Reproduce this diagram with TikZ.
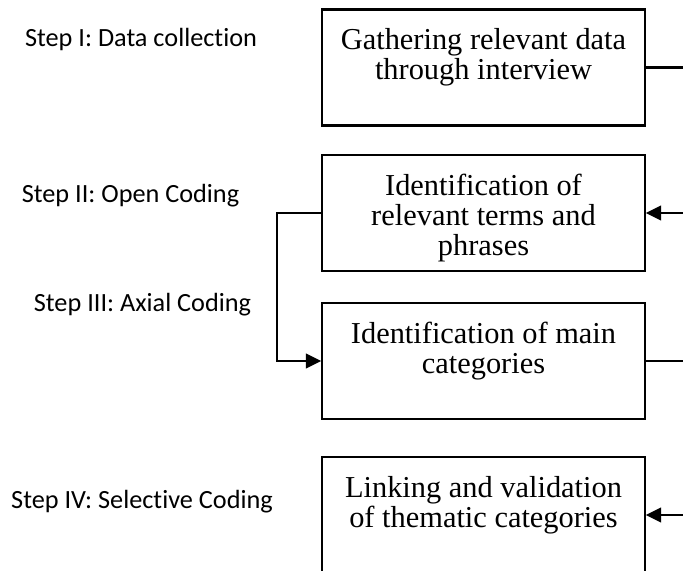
\documentclass[tikz,border=0pt]{standalone}
\usepackage{fontspec}
\setmainfont{Liberation Serif}
\newfontfamily\stepfont[Ligatures=NoCommon]{Carlito}
\usetikzlibrary{arrows.meta}

\begin{document}
\begin{tikzpicture}[x=0.75pt,y=0.75pt,yscale=-1,xscale=1,
	stepbox/.style={draw,line width=1.6pt,minimum width=242pt,minimum height=87pt,inner sep=0pt},
	boxtext/.style={anchor=north,inner sep=0pt,align=center,font=\fontsize{22.8}{22.5}\selectfont},
	steplabel/.style={anchor=base,inner sep=0pt,font=\stepfont\fontsize{19.7}{23}\selectfont},
	flow/.style={line width=1.6pt},
	flowarrow/.style={line width=1.6pt,-{Triangle[length=11.5pt,width=11pt]}}]
	%set diagram size: 683 x 571
	\useasboundingbox (0,0) rectangle (683,571);
	\clip (0,0) rectangle (683,571);

	%Shape: Rectangle
	\node [stepbox] (b1) at (483.5,67.5) {};
	%Shape: Rectangle
	\node [stepbox] (b2) at (483.5,213) {};
	%Shape: Rectangle
	\node [stepbox] (b3) at (483.5,361) {};
	%Shape: Rectangle
	\node [stepbox] (b4) at (483.5,515) {};

	% Text Node
	\node [boxtext] (t1) at (483.5,28) {Gathering relevant data\\through interview};
	% Text Node
	\node [boxtext] (t2) at (483.5,174) {Identification of\\relevant terms and\\phrases};
	% Text Node
	\node [boxtext] (t3) at (483.5,322) {Identification of main\\categories};
	% Text Node
	\node [boxtext] (t4) at (483.5,476) {Linking and validation\\of thematic categories};

	% Text Node
	\node [steplabel] (s1) at (141,46) {Step I: Data collection};
	% Text Node
	\node [steplabel] (s2) at (130.5,202) {Step II: Open Coding};
	% Text Node
	\node [steplabel] (s3) at (142.5,311) {Step III: Axial Coding};
	% Text Node
	\node [steplabel] (s4) at (142,508) {Step IV: Selective Coding};

	%Free ends at the right edge
	\coordinate (e1) at (683,67.5);
	\coordinate (e2) at (683,213);
	\coordinate (e3) at (683,361);
	\coordinate (e4) at (683,515);

	%Straight Lines
	\draw [flow] (b1.east) -- (e1);
	%Straight Lines
	\draw [flowarrow] (e2) -- (b2.east);
	%Straight Lines
	\draw [flowarrow] (b2.west) -- (277,213) |- (b3.west);
	%Straight Lines
	\draw [flow] (b3.east) -- (e3);
	%Straight Lines
	\draw [flowarrow] (e4) -- (b4.east);

\end{tikzpicture}
\end{document}
